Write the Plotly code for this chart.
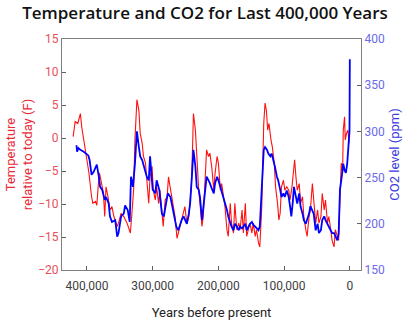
import plotly.graph_objects as go

# Temperature (F, relative to today) vs years before present
temp_years = [421000, 418000, 414000, 410000, 408000, 403000, 397000, 393000, 391000, 387000,
              385000, 383000, 381000, 378000, 375000, 373000, 371000, 368000, 365000, 362000,
              359000, 354000, 352000, 348000, 344000, 339000, 334000, 332000, 329000, 327000,
              324000, 321000, 319000, 316000, 314000, 311000, 309000, 306000, 304000, 301000,
              299000, 296000, 294000, 291000, 289000, 284000, 281000, 278000, 276000, 273000,
              269000, 266000, 263000, 261000, 257000, 254000, 251000, 248000, 245000, 243000,
              241000, 239000, 238000, 235000, 233000, 230000, 228000, 225000, 223000, 220000,
              218000, 215000, 213000, 210000, 207000, 205000, 202000, 200000, 197000, 195000,
              192000, 190000, 187000, 185000, 182000, 180000, 177000, 175000, 172000, 169000,
              167000, 164000, 162000, 159000, 157000, 154000, 152000, 149000, 147000, 144000,
              142000, 139000, 137000, 134000, 132000, 131000, 129000, 127000, 125000, 123000,
              120000, 118000, 115000, 113000, 110000, 108000, 106000, 104000, 101000, 99000,
              96000, 93000, 91000, 88000, 86000, 84000, 82000, 80000, 77000, 75000,
              72000, 70000, 67000, 65000, 62000, 60000, 57000, 55000, 52000, 49000,
              47000, 44000, 42000, 39000, 37000, 34000, 32000, 29000, 27000, 24000,
              22000, 19000, 17000, 15000, 13000, 11000, 10000, 8000, 7000, 5000,
              3000, 1000]
temp_values = [0.2, 2.5, 2.2, 3.7, 1.7, -1.3, -5.3, -8.9, -9.9, -9.6,
               -10.2, -7.4, -5.3, -6.8, -8.3, -11.9, -7.4, -8.9, -10.9, -10.4,
               -11.9, -13.4, -12.9, -11.4, -11.9, -12.9, -14.4, -11.9, -7.9, -0.3,
               5.8, 4.2, 0.7, -0.8, -2.8, -3.8, -6.9, -9.9, -5.9, -4.3,
               -7.9, -9.4, -7.4, -9.9, -7.9, -13.4, -9.4, -8.9, -5.9, -7.9,
               -9.9, -11.9, -15.2, -14.4, -12.9, -11.9, -10.4, -12.9, -11.9, -9.4,
               -6.9, -0.3, 3.7, 1.2, -2.8, -7.9, -9.9, -13.4, -11.9, -5.3,
               -1.8, -2.8, -2.3, -4.5, -7.9, -5.3, -2.8, -3.8, -7.9, -6.9,
               -8.9, -10.4, -13.9, -14.9, -9.9, -12.9, -14.4, -9.9, -13.9, -12.9,
               -13.9, -10.9, -14.4, -9.9, -14.9, -13.9, -12.9, -14.4, -12.9, -14.9,
               -13.9, -15.9, -16.5, -10.4, -2.8, 2.2, 5.3, 4.2, 1.2, 2.2,
               -0.3, -1.3, -3.8, -7.4, -9.9, -12.4, -11.4, -7.4, -6.4, -7.9,
               -7.4, -7.9, -9.4, -7.4, -5.3, -3.3, -5.9, -7.9, -6.9, -9.9,
               -8.9, -11.9, -13.9, -14.9, -11.9, -10.9, -6.9, -9.9, -12.9, -10.9,
               -12.9, -11.9, -8.4, -10.9, -9.4, -12.9, -11.9, -13.9, -15.5, -16.5,
               -13.9, -14.9, -15.5, -8.9, -3.8, -5.3, 1.2, 3.2, -0.3, 0.7,
               1.2, -0.8]

# CO2 (ppm) vs years before present
co2_years = [416000, 415000, 413000, 410000, 405000, 398000, 396000, 393000, 390000, 385000,
             382000, 380000, 377000, 373000, 371000, 367000, 365000, 362000, 357000, 354000,
             352000, 348000, 344000, 342000, 338000, 335000, 333000, 330000, 327000, 325000,
             324000, 321000, 319000, 316000, 314000, 311000, 309000, 306000, 304000, 302000,
             300000, 296000, 294000, 290000, 286000, 283000, 279000, 277000, 273000, 271000,
             267000, 264000, 261000, 258000, 256000, 253000, 251000, 248000, 245000, 243000,
             240000, 238000, 235000, 233000, 230000, 228000, 225000, 223000, 220000, 218000,
             215000, 213000, 210000, 207000, 205000, 202000, 200000, 197000, 195000, 192000,
             190000, 187000, 185000, 182000, 180000, 177000, 175000, 172000, 169000, 167000,
             164000, 162000, 159000, 157000, 154000, 152000, 149000, 147000, 144000, 142000,
             139000, 137000, 134000, 131000, 129000, 126000, 124000, 121000, 119000, 116000,
             114000, 111000, 109000, 106000, 104000, 101000, 99000, 96000, 93000, 91000,
             89000, 87000, 85000, 82000, 80000, 77000, 75000, 72000, 70000, 67000,
             65000, 62000, 60000, 57000, 55000, 52000, 49000, 47000, 44000, 42000,
             39000, 37000, 34000, 32000, 29000, 27000, 24000, 22000, 19000, 17000,
             15000, 13000, 11000, 10000, 8000, 6000, 4000, 3000, 1500, 500,
             0]
co2_values = [285, 278, 282, 280, 278, 274, 269, 253, 256, 264,
              251, 240, 237, 226, 229, 222, 208, 202, 204, 186,
              190, 208, 211, 220, 215, 202, 251, 240, 265, 291,
              300, 283, 273, 269, 264, 258, 251, 247, 273, 255,
              237, 233, 247, 237, 211, 208, 226, 233, 229, 222,
              208, 197, 193, 200, 204, 208, 204, 200, 211, 222,
              255, 280, 262, 240, 237, 229, 204, 215, 237, 251,
              247, 244, 238, 233, 244, 251, 247, 240, 233, 226,
              222, 215, 208, 200, 197, 193, 200, 197, 193, 197,
              195, 197, 200, 193, 197, 200, 202, 199, 197, 195,
              193, 197, 237, 280, 283, 280, 276, 273, 276, 269,
              262, 251, 247, 237, 229, 233, 229, 236, 229, 219,
              208, 222, 240, 229, 222, 233, 219, 211, 204, 200,
              204, 211, 219, 215, 211, 193, 200, 190, 193, 204,
              208, 204, 200, 197, 193, 190, 190, 186, 182, 190,
              237, 247, 258, 265, 258, 255, 265, 276, 280, 300,
              378]

x_tickvals = [400000, 300000, 200000, 100000, 0]
x_ticktext = ["400,000", "300,000", "200,000", "100,000", "0"]

FONT = "Roboto"
RED = "#ff1010"
BLUE = "#0000ff"

fig = go.Figure()
fig.add_trace(go.Scatter(x=temp_years, y=temp_values, mode="lines",
                         line=dict(color=RED, width=1.1), yaxis="y", showlegend=False))
fig.add_trace(go.Scatter(x=co2_years, y=co2_values, mode="lines",
                         line=dict(color=BLUE, width=1.8), yaxis="y2", showlegend=False))

fig.update_layout(
    width=410, height=325,
    margin=dict(l=62, r=49, t=39, b=55, autoexpand=False),
    paper_bgcolor="white", plot_bgcolor="white",
    font=dict(family=FONT),
    title=dict(text="Temperature and CO2 for Last 400,000 Years",
               x=0.5, xanchor="center", y=1 - 13 / 325, yanchor="middle",
               font=dict(family="Open Sans", size=17, weight=600, color="#111111")),
    xaxis=dict(range=[438000, -17000], tickvals=x_tickvals, ticktext=x_ticktext,
               ticks="inside", ticklen=4, tickcolor="#606060", automargin=False,
               showline=True, linecolor="#808080", linewidth=1, mirror=True,
               showgrid=False, zeroline=False, ticklabelstandoff=5,
               tickfont=dict(size=12, color="#404040"),
               title=dict(text="Years before present", font=dict(size=13, color="#222222"),
                          standoff=15)),
    yaxis=dict(range=[-20, 15], dtick=5, ticks="inside", ticklen=4, tickcolor="#606060",
               showline=True, linecolor="#808080", linewidth=1, automargin=False,
               showgrid=False, zeroline=False,
               tickfont=dict(size=12, color="#e8505a"),
               title=dict(text="Temperature<br>relative to today (F)",
                          font=dict(size=13, color="#e82a36"), standoff=2)),
    yaxis2=dict(range=[150, 400], dtick=50, overlaying="y", side="right",
                ticks="inside", ticklen=4, tickcolor="#606060", automargin=False,
                showline=True, linecolor="#808080", linewidth=1,
                showgrid=False, zeroline=False,
                tickfont=dict(size=12, color="#6a6ae8"),
                title=dict(text="CO2 level (ppm)", font=dict(size=13, color="#3a3ae0"),
                           standoff=6)),
)

fig.write_html("out.html")
